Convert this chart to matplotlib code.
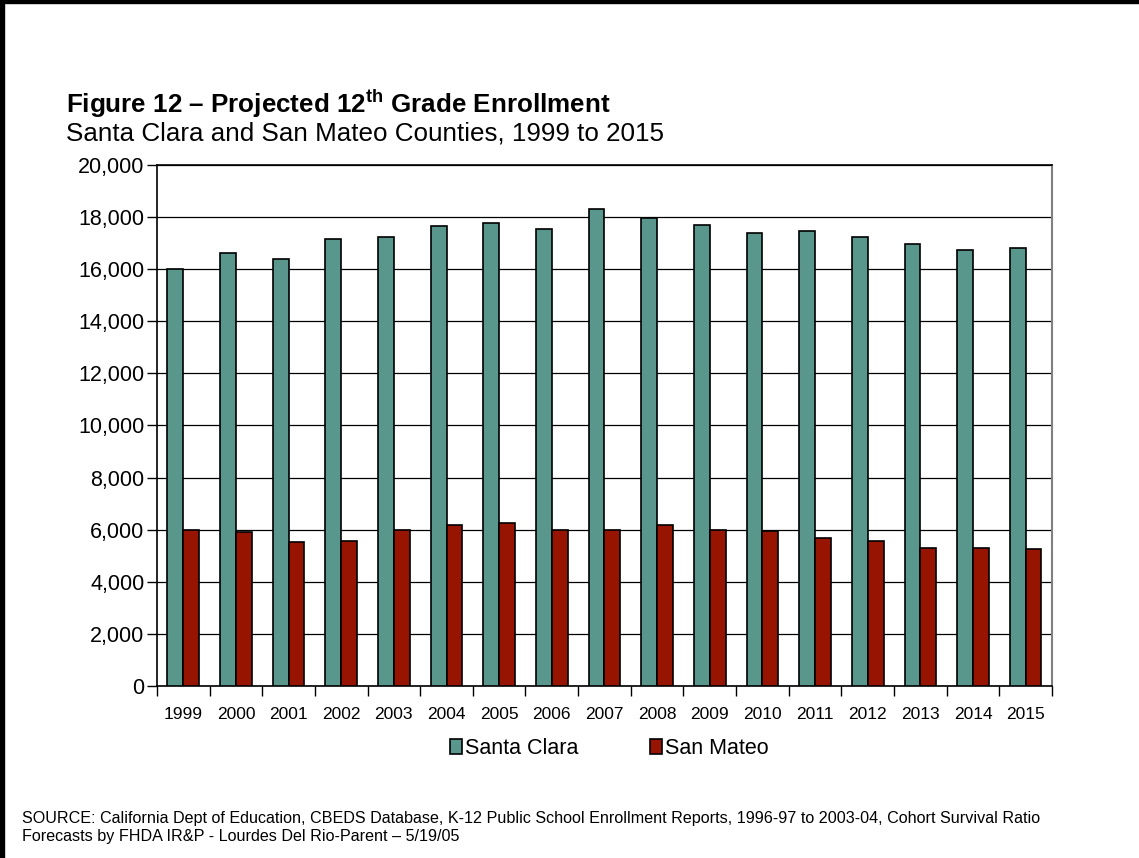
import matplotlib.pyplot as plt
import numpy as np
from matplotlib.patches import Rectangle
from matplotlib.ticker import FuncFormatter, FixedLocator

plt.rcParams['font.family'] = ['Liberation Sans', 'DejaVu Sans']
plt.rcParams['mathtext.fontset'] = 'custom'
plt.rcParams['mathtext.rm'] = 'Liberation Sans'
plt.rcParams['mathtext.bf'] = 'Liberation Sans:bold'

years = ['1999', '2000', '2001', '2002', '2003', '2004', '2005', '2006', '2007',
         '2008', '2009', '2010', '2011', '2012', '2013', '2014', '2015']
santa_clara = [16000, 16630, 16400, 17170, 17220, 17670, 17770, 17550, 18320,
               17950, 17690, 17400, 17450, 17220, 16960, 16740, 16800]
san_mateo = [6000, 5910, 5530, 5580, 6000, 6190, 6250, 6000, 6000,
             6190, 6000, 5960, 5680, 5580, 5300, 5300, 5250]
series_names = ['Santa Clara', 'San Mateo']
colors = ['#59978c', '#961400']

fig = plt.figure(figsize=(11.39, 8.58), dpi=100)
ax = fig.add_axes([0.1378, 0.2005, 0.7858, 0.6072])

x = np.arange(len(years))
width = 0.3
ax.bar(x - width / 2, santa_clara, width, color=colors[0], edgecolor='black',
       linewidth=1.2, label=series_names[0], zorder=3)
ax.bar(x + width / 2, san_mateo, width, color=colors[1], edgecolor='black',
       linewidth=1.2, label=series_names[1], zorder=3)

ax.set_xlim(-0.5, len(years) - 0.5)
ax.set_ylim(0, 20000)
ax.set_yticks(np.arange(0, 20001, 2000))
ax.yaxis.set_major_formatter(FuncFormatter(lambda v, p: f'{int(v):,}'))
ax.grid(axis='y', color='black', linewidth=0.9, zorder=0)

ax.set_xticks(x)
ax.set_xticklabels(years, fontsize=12.5)
ax.xaxis.set_minor_locator(FixedLocator(np.arange(-0.5, len(years), 1.0)))
ax.tick_params(axis='x', which='major', length=0, pad=15)
ax.tick_params(axis='x', which='minor', length=7, width=1, direction='out')
ax.tick_params(axis='y', length=7, width=1, direction='out', labelsize=15.5, pad=2)

for side in ['left', 'top', 'bottom']:
    ax.spines[side].set_color('black')
    ax.spines[side].set_linewidth(1.2)
ax.spines['right'].set_color('#808080')
ax.spines['right'].set_linewidth(1.5)

fig.legend(loc='center', bbox_to_anchor=(0.535, 0.128), ncol=2, frameon=False,
           fontsize=15.5, handlelength=0.55, handleheight=0.7, handletextpad=0.15,
           columnspacing=3.3)

fig.text(0.058, 1 - 104 / 858, 'Figure 12 \u2013 Projected 12$^{\\mathbf{th}}$ Grade Enrollment',
         fontsize=18.7, fontweight='bold', va='center')
fig.text(0.058, 1 - 133 / 858, 'Santa Clara and San Mateo Counties, 1999 to 2015',
         fontsize=18.7, va='center')
fig.text(0.019, 1 - 818 / 858,
         'SOURCE: California Dept of Education, CBEDS Database, K-12 Public School Enrollment '
         'Reports, 1996-97 to 2003-04, Cohort Survival Ratio',
         fontsize=11.6, va='center')
fig.text(0.019, 1 - 836 / 858, 'Forecasts by FHDA IR&P - Lourdes Del Rio-Parent \u2013 5/19/05',
         fontsize=11.6, va='center')

# frame on left and top edges of the page
fig.patches.append(Rectangle((0, 0), 0.0035, 1, transform=fig.transFigure,
                             color='black', zorder=10))
fig.patches.append(Rectangle((0, 0.9965), 1, 0.0035, transform=fig.transFigure,
                             color='black', zorder=10))

plt.savefig('out.png', dpi=100)
plt.close()
